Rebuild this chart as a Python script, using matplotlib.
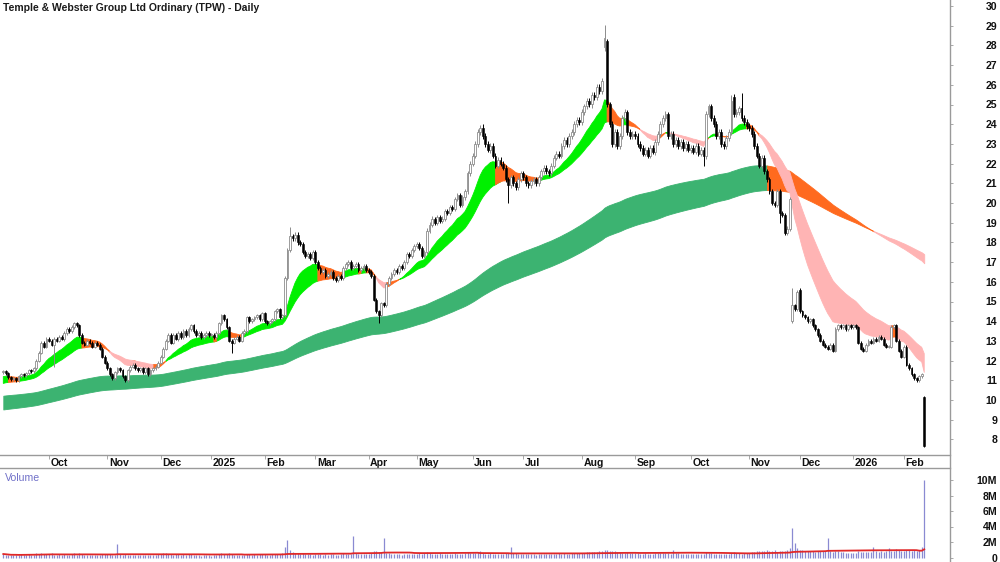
import numpy as np
import pandas as pd
import matplotlib
matplotlib.use("Agg")
import matplotlib.pyplot as plt
from matplotlib.lines import Line2D
import matplotlib.transforms as mtransforms

plt.rcParams['font.family'] = ['Liberation Sans', 'DejaVu Sans']

TITLE = "Temple & Webster Group Ltd Ordinary (TPW) - Daily"

# ---- daily closes, one list per month ----
close_sep24 = [11.45, 11.35, 11.15, 11.05, 11.10, 11.00, 11.20, 11.30, 11.25, 11.35, 11.50, 11.45, 11.60, 12.00, 12.40, 12.90, 12.70, 13.10]
close_oct24 = [13.00, 12.80, 13.10, 13.00, 13.20, 13.10, 13.40, 13.60, 13.50, 13.70, 13.90, 13.80, 13.30, 12.90, 12.80, 13.00, 12.90, 12.70, 12.90, 12.80, 12.60, 12.20, 11.90]
close_nov24 = [11.60, 11.30, 11.10, 11.40, 11.60, 11.50, 11.20, 11.00, 11.50, 11.70, 11.80, 11.60, 11.50, 11.60, 11.40, 11.60, 11.30, 11.50, 11.60, 11.70, 11.90]
close_dec24 = [12.20, 12.60, 13.00, 13.30, 12.90, 13.30, 13.10, 13.40, 13.20, 13.50, 13.30, 13.60, 13.80, 13.50, 13.30, 13.40, 13.20, 13.30, 13.40, 13.30]
close_jan25 = [13.30, 13.20, 13.40, 13.90, 14.30, 14.10, 13.70, 13.00, 12.90, 13.10, 13.20, 13.00, 13.40, 13.50, 14.20, 14.00, 14.10, 14.20, 14.30, 14.10, 14.40]
close_feb25 = [14.00, 13.90, 14.00, 14.10, 14.50, 14.60, 14.20, 14.30, 16.20, 17.60, 18.30, 18.20, 18.40, 18.00, 17.90, 17.50, 17.30, 17.40, 17.20, 17.50]
close_mar25 = [17.00, 16.70, 16.50, 16.60, 16.30, 16.40, 16.50, 16.20, 16.10, 16.30, 16.20, 16.70, 16.90, 17.00, 16.70, 16.80, 16.90, 16.60, 16.70, 16.80, 16.60]
close_apr25 = [16.50, 16.30, 15.10, 14.50, 14.30, 14.90, 14.80, 15.90, 16.20, 16.40, 16.60, 16.50, 16.80, 16.70, 17.00, 17.40, 17.30, 17.60, 17.80]
close_may25 = [17.90, 17.70, 17.30, 17.50, 18.60, 18.90, 19.20, 19.00, 19.30, 19.10, 19.20, 19.60, 19.50, 19.80, 19.70, 20.20, 20.40, 19.90, 20.30, 20.60, 21.50, 22.00]
close_jun25 = [22.40, 23.00, 23.60, 23.80, 23.40, 23.00, 22.70, 22.90, 22.40, 21.90, 22.20, 22.00, 21.80, 21.20, 20.90, 21.30, 21.00, 20.80, 21.20, 21.50]
close_jul25 = [21.30, 21.00, 20.90, 21.10, 21.20, 21.00, 21.30, 21.60, 21.80, 21.60, 21.50, 21.90, 22.30, 22.50, 22.40, 22.90, 23.20, 23.00, 23.40, 23.60, 24.00, 24.20, 24.10]
close_aug25 = [24.60, 24.90, 25.20, 25.00, 25.50, 25.40, 25.90, 25.70, 26.20, 28.40, 25.00, 24.00, 23.00, 23.60, 22.90, 23.40, 24.30, 24.60, 23.60, 23.40, 23.50]
close_sep25 = [23.40, 23.00, 22.80, 22.50, 22.70, 22.40, 22.80, 22.60, 23.10, 23.50, 24.00, 24.30, 24.50, 23.40, 23.50, 23.00, 23.20, 22.90, 23.10, 22.80, 23.00, 22.70]
close_oct25 = [22.80, 22.60, 22.90, 22.50, 22.70, 22.40, 24.50, 24.90, 24.30, 24.00, 23.40, 23.60, 23.00, 22.90, 23.30, 23.60, 25.20, 24.50, 24.60, 24.80, 24.30, 24.10, 23.90]
close_nov25 = [23.80, 23.50, 22.90, 22.40, 21.90, 22.30, 21.60, 21.20, 20.60, 20.00, 19.90, 20.60, 19.50, 19.40, 18.50, 18.70, 20.20, 14.80, 14.60, 15.50]
close_dec25 = [14.50, 14.30, 14.20, 14.00, 14.10, 13.80, 13.60, 13.30, 13.00, 12.80, 12.70, 12.60, 12.80, 12.50, 13.60, 13.80, 13.70, 13.80, 13.60, 13.80, 13.70]
close_jan26 = [13.80, 13.70, 12.90, 12.60, 12.50, 12.80, 13.00, 12.90, 13.10, 13.00, 13.20, 13.10, 12.80, 12.70, 12.70, 13.70, 13.80, 13.00, 12.50, 12.20]
close_feb26 = [12.70, 11.80, 11.60, 11.30, 11.10, 11.00, 11.20, 11.30, 7.65]

first_open = 11.40
# gap opens and notable wicks (bar index -> price)
open_override = {237: 27.90, 238: 28.20, 288: 25.40, 311: 14.00, 314: 15.60, 363: 10.15}
high_override = {237: 29.05, 113: 18.80, 291: 25.60, 287: 25.50, 189: 24.00, 311: 15.70, 314: 15.70}
low_override = {148: 13.90, 306: 19.00, 199: 20.00, 276: 21.90, 20: 11.70, 90: 12.40, 363: 7.60}

# moving-average bands: EMA spans and their levels just before the first bar
short_spans = (15, 30)
long_spans = (140, 200)
short_start = (11.15, 10.80)
long_start = (10.20, 9.50)
short_slope_lag = 1   # bars used to judge whether the fast average is rising
long_slope_lag = 5

# ---- daily volume (millions), one list per month ----
vol_sep24 = [0.45, 0.38, 0.30, 0.28, 0.35, 0.32, 0.27, 0.40, 0.33, 0.36, 0.42, 0.30, 0.38, 0.55, 0.48, 0.62, 0.41, 0.50]
vol_oct24 = [0.44, 0.52, 0.36, 0.31, 0.40, 0.34, 0.46, 0.38, 0.33, 0.41, 0.52, 0.37, 0.58, 0.45, 0.32, 0.30, 0.29, 0.35, 0.31, 0.28, 0.36, 0.48, 0.42]
vol_nov24 = [0.39, 0.44, 0.36, 0.30, 1.70, 0.42, 0.38, 0.47, 0.33, 0.31, 0.36, 0.28, 0.30, 0.27, 0.32, 0.29, 0.35, 0.30, 0.33, 0.31, 0.40]
vol_dec24 = [0.45, 0.52, 0.60, 0.48, 0.41, 0.38, 0.44, 0.50, 0.36, 0.42, 0.33, 0.39, 0.45, 0.35, 0.30, 0.28, 0.22, 0.26, 0.30, 0.27]
vol_jan25 = [0.25, 0.31, 0.35, 0.42, 0.55, 0.48, 0.40, 0.52, 0.44, 0.36, 0.33, 0.38, 0.31, 0.35, 0.47, 0.40, 0.38, 0.42, 0.36, 0.39, 0.45]
vol_feb25 = [0.40, 0.35, 0.38, 0.42, 0.50, 0.46, 0.41, 0.55, 1.30, 2.30, 0.95, 0.72, 0.60, 0.55, 0.48, 0.52, 0.44, 0.40, 0.45, 0.38]
vol_mar25 = [0.42, 0.50, 0.46, 0.38, 0.41, 0.36, 0.44, 0.40, 0.37, 0.35, 0.48, 0.52, 0.45, 0.39, 0.42, 2.80, 0.60, 0.48, 0.44, 0.40, 0.46]
vol_apr25 = [0.48, 0.55, 0.85, 0.90, 0.70, 0.65, 2.50, 0.60, 0.52, 0.48, 0.45, 0.40, 0.42, 0.38, 0.44, 0.41, 0.46, 0.50, 0.43]
vol_may25 = [0.45, 0.52, 0.48, 0.55, 0.70, 0.62, 0.50, 0.47, 0.44, 0.52, 0.48, 0.45, 0.50, 0.43, 0.46, 0.55, 0.49, 0.44, 0.51, 0.58, 0.66, 0.60]
vol_jun25 = [0.62, 0.58, 0.66, 0.90, 0.55, 0.50, 0.47, 0.52, 0.45, 0.48, 0.50, 0.44, 0.46, 0.55, 0.60, 1.30, 0.58, 0.52, 0.48, 0.45]
vol_jul25 = [0.44, 0.40, 0.47, 0.42, 0.45, 0.38, 0.43, 0.46, 0.41, 0.48, 0.44, 0.50, 0.47, 0.45, 0.52, 0.49, 0.55, 0.51, 0.48, 0.53, 0.58, 0.62, 0.60]
vol_aug25 = [0.58, 0.62, 0.66, 0.70, 0.72, 0.68, 0.75, 0.80, 0.85, 1.00, 0.95, 0.90, 0.82, 0.78, 0.70, 0.65, 0.62, 0.60, 0.66, 0.58, 0.55]
vol_sep25 = [0.52, 0.55, 0.50, 0.48, 0.53, 0.47, 0.45, 0.50, 0.55, 0.58, 0.60, 0.62, 0.58, 0.54, 0.50, 1.00, 0.56, 0.52, 0.48, 0.50, 0.46, 0.44]
vol_oct25 = [0.48, 0.45, 0.42, 0.47, 0.44, 0.50, 0.70, 0.62, 0.55, 0.50, 0.48, 0.46, 0.44, 0.42, 0.45, 0.48, 0.60, 0.65, 0.58, 0.52, 0.50, 0.55, 0.58]
vol_nov25 = [0.60, 0.66, 0.72, 0.80, 0.85, 0.78, 0.90, 0.95, 0.88, 0.82, 0.92, 0.75, 0.85, 0.80, 0.90, 1.00, 1.25, 3.80, 1.90, 1.20]
vol_dec25 = [1.00, 0.95, 0.90, 0.85, 0.88, 0.80, 0.75, 0.82, 0.78, 0.85, 0.90, 2.50, 0.80, 0.72, 0.85, 0.78, 0.70, 0.65, 0.60, 0.55, 0.58]
vol_jan26 = [0.55, 0.62, 0.80, 0.72, 0.68, 0.65, 0.70, 0.75, 1.40, 0.80, 0.72, 0.78, 0.70, 0.82, 1.20, 0.85, 0.90, 1.10, 0.95, 0.88]
vol_feb26 = [0.90, 1.00, 0.95, 0.85, 0.92, 0.88, 0.95, 1.40, 10.00]

# labels for the first trading day of each month after the first one
month_labels = ["Oct", "Nov", "Dec", "2025", "Feb", "Mar", "Apr", "May", "Jun", "Jul",
                "Aug", "Sep", "Oct", "Nov", "Dec", "2026", "Feb"]
price_ticks = list(range(8, 31))
vol_ticks = [0, 2, 4, 6, 8, 10]
vol_tick_labels = ["0", "2M", "4M", "6M", "8M", "10M"]

close_months = [close_sep24, close_oct24, close_nov24, close_dec24, close_jan25, close_feb25,
                close_mar25, close_apr25, close_may25, close_jun25, close_jul25, close_aug25,
                close_sep25, close_oct25, close_nov25, close_dec25, close_jan26, close_feb26]
vol_months = [vol_sep24, vol_oct24, vol_nov24, vol_dec24, vol_jan25, vol_feb25, vol_mar25,
              vol_apr25, vol_may25, vol_jun25, vol_jul25, vol_aug25, vol_sep25, vol_oct25,
              vol_nov25, vol_dec25, vol_jan26, vol_feb26]

close = np.array([c for m in close_months for c in m])
volume = np.array([v for m in vol_months for v in m])
n = len(close)
x = np.arange(n)
month_starts = np.cumsum([len(m) for m in close_months])[:-1]

# opens / highs / lows
opens = np.empty(n)
opens[0] = first_open
opens[1:] = close[:-1]
for k, v in open_override.items():
    opens[k] = v
body_hi = np.maximum(opens, close)
body_lo = np.minimum(opens, close)
wick = 0.006 * close
highs = body_hi + wick
lows = body_lo - wick
for k, v in high_override.items():
    highs[k] = v
for k, v in low_override.items():
    lows[k] = v


def ema(vals, span, start):
    a = 2.0 / (span + 1.0)
    out = np.empty(len(vals))
    prev = start
    for i, v in enumerate(vals):
        prev = prev + a * (v - prev)
        out[i] = prev
    return out


GREEN_S = "#00F000"
GREEN_L = "#3CB371"
ORANGE = "#FF6A1F"
PINK = "#FFB4B4"


def band(spans, starts, green, lag):
    fast = ema(close, spans[0], starts[0])
    slow = ema(close, spans[1], starts[1])
    hist = np.concatenate([np.full(lag, starts[0]), fast])
    rising = fast > hist[:n]
    above = fast >= slow
    state = np.where(rising & above, green, np.where(~rising & ~above, PINK, ORANGE))
    return np.maximum(fast, slow), np.minimum(fast, slow), state


sh_top, sh_bot, sh_state = band(short_spans, short_start, GREEN_S, short_slope_lag)
lg_top, lg_bot, lg_state = band(long_spans, long_start, GREEN_L, long_slope_lag)

vol_ma = pd.Series(volume).rolling(50, min_periods=1).mean().values

# ---- figure ----
W, H = 1000, 562
fig = plt.figure(figsize=(W / 100, H / 100), dpi=100)
fig.patch.set_facecolor("white")

x_px0, px_per_bar = 3.3, 2.537
xlim = ((0 - x_px0) / px_per_bar, (950 - x_px0) / px_per_bar)

ax = fig.add_axes([0, 1 - 455 / H, 950 / W, 455 / H])
axv = fig.add_axes([0, 0, 950 / W, (H - 468) / H], sharex=ax)


def fill_band(a, top, bot, states):
    for c in pd.unique(states):
        m = states == c
        m_ext = m.copy()
        m_ext[1:] |= m[:-1]
        a.fill_between(x, bot, top, where=m_ext, facecolor=c, edgecolor=c,
                       linewidth=0.6, zorder=2)


fill_band(ax, lg_top, lg_bot, lg_state)
fill_band(ax, sh_top, sh_bot, sh_state)

# candles
up = close >= opens
wick_cols = np.where(up, "#8C8C8C", "#000000")
ax.vlines(x, lows, highs, colors=wick_cols, linewidth=0.7, zorder=3)
bh = np.maximum(body_hi - body_lo, 0.03)
ax.bar(x[up], bh[up], bottom=body_lo[up], width=0.72, facecolor="white",
       edgecolor="#8C8C8C", linewidth=0.6, zorder=4)
ax.bar(x[~up], bh[~up], bottom=body_lo[~up], width=0.72, facecolor="black",
       edgecolor="black", linewidth=0.4, zorder=4)

ax.set_xlim(*xlim)
ax.set_ylim(30 - (455 - 6) / 19.7, 30 + 6 / 19.7)

grey = "#9A9A9A"
for s in ["top", "left", "right"]:
    ax.spines[s].set_visible(False)
ax.spines["bottom"].set_color(grey)
ax.spines["bottom"].set_linewidth(1.0)

ax.yaxis.tick_right()
ax.set_yticks(price_ticks)
ax.set_yticklabels([str(t) for t in price_ticks])
ax.tick_params(axis="y", direction="out", length=2.5, width=0.6, color=grey,
               pad=31.5, labelsize=7.6, labelcolor="#111111")
for lab in ax.get_yticklabels():
    lab.set_horizontalalignment("right")
    lab.set_fontweight("bold")

ax.set_xticks(month_starts)
ax.tick_params(axis="x", direction="out", length=3, width=0.6, color=grey,
               labelbottom=False)
trans = mtransforms.blended_transform_factory(ax.transData, ax.transAxes)
for xi, lab in zip(month_starts, month_labels):
    ax.text(xi + 0.6, -8.5 / 455, lab, transform=trans, ha="left", va="center",
            fontsize=7.6, fontweight="bold", color="#111111", clip_on=False)

# volume panel
axv.vlines(x, 0, volume, colors="#8A8AD2", linewidth=0.9, zorder=2)
axv.plot(x, vol_ma, color="#E02828", linewidth=1.3, zorder=3)
axv.set_ylim(-(H - 557.5) / 7.75, (557.5 - 468) / 7.75)
for s in ["bottom", "left", "right"]:
    axv.spines[s].set_visible(False)
axv.spines["top"].set_color(grey)
axv.spines["top"].set_linewidth(1.0)
axv.yaxis.tick_right()
axv.set_yticks(vol_ticks)
axv.set_yticklabels(vol_tick_labels)
axv.tick_params(axis="y", direction="out", length=2.5, width=0.6, color=grey,
                pad=31.5, labelsize=7.6, labelcolor="#111111")
for lab in axv.get_yticklabels():
    lab.set_horizontalalignment("right")
    lab.set_fontweight("bold")
axv.tick_params(axis="x", bottom=False, labelbottom=False)
axv.text(0.005, (557.5 - 478) / 7.75, "Volume",
         transform=mtransforms.blended_transform_factory(axv.transAxes, axv.transData),
         ha="left", va="center", fontsize=7.6, color="#7070C8")

# right axis line across the whole figure
fig.add_artist(Line2D([950 / W, 950 / W], [0, 1], transform=fig.transFigure,
                      color=grey, linewidth=1.0))

fig.text(3 / W, 1 - 8 / H, TITLE, ha="left", va="center", fontsize=7.5,
         fontweight="bold", color="#1A1A1A")

fig.savefig("out.png", dpi=100, facecolor="white")
